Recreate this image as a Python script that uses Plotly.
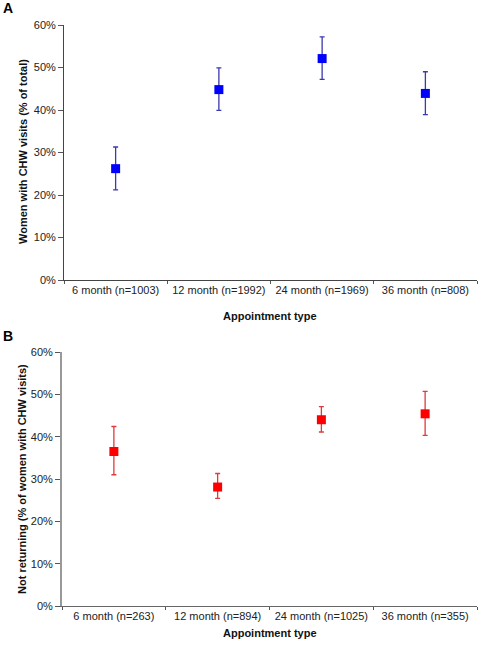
import plotly.graph_objects as go

categories_a = ["6 month (n=1003)", "12 month (n=1992)", "24 month (n=1969)", "36 month (n=808)"]
values_a = [26.2, 44.8, 52.1, 43.9]
err_plus_a = [5.1, 5.1, 5.1, 5.1]
err_minus_a = [5.0, 4.9, 4.9, 5.0]

categories_b = ["6 month (n=263)", "12 month (n=894)", "24 month (n=1025)", "36 month (n=355)"]
values_b = [36.5, 28.1, 44.0, 45.4]
err_plus_b = [5.9, 3.2, 3.1, 5.3]
err_minus_b = [5.5, 2.7, 2.9, 5.1]

y_ticks = [0, 10, 20, 30, 40, 50, 60]
y_tick_labels = ["0%", "10%", "20%", "30%", "40%", "50%", "60%"]

FONT = "Liberation Sans, Arial, sans-serif"
OFF = 0  # page body margin removed via post_script
W, H = 481 - OFF, 650 - OFF
ML, MR, MT, MB = 62, 4, 25, 44
PW = W - ML - MR
PH = H - MT - MB


def px_x(p):
    return (p - OFF - ML) / PW


def px_y(p):
    return (H - MB - (p - OFF)) / PH


fig = go.Figure()
fig.add_trace(go.Scatter(
    x=categories_a, y=values_a, mode="markers", xaxis="x", yaxis="y",
    marker=dict(symbol="square", size=9, color="#0000ff"),
    error_y=dict(type="data", array=err_plus_a, arrayminus=err_minus_a,
                 color="#3a3ab0", thickness=1.3, width=2.5),
    showlegend=False))
fig.add_trace(go.Scatter(
    x=categories_b, y=values_b, mode="markers", xaxis="x2", yaxis="y2",
    marker=dict(symbol="square", size=9, color="#ff0000"),
    error_y=dict(type="data", array=err_plus_b, arrayminus=err_minus_b,
                 color="#e03a3a", thickness=1.3, width=2.5),
    showlegend=False))

tickfont = dict(family=FONT, size=11, color="#222")

xcommon = dict(type="category", tickson="boundaries", ticks="outside", ticklen=3,
               tickcolor="#555", showgrid=False, zeroline=False, showline=True,
               tickfont=tickfont, range=[-0.5, 3.5], fixedrange=True, automargin=False)
ycommon = dict(range=[0, 60], tickmode="array", tickvals=y_ticks, ticktext=y_tick_labels,
               ticks="outside", ticklen=5, tickcolor="#555", showgrid=False,
               zeroline=False, showline=True, tickfont=tickfont, fixedrange=True,
               automargin=False)

fig.update_layout(
    width=W, height=H,
    margin=dict(l=ML, r=MR, t=MT, b=MB),
    paper_bgcolor="white", plot_bgcolor="white",
    hovermode=False,
    xaxis=dict(domain=[px_x(64), 1], anchor="y", linecolor="#444", linewidth=1, **xcommon),
    yaxis=dict(domain=[px_y(280), 1], anchor="x", linecolor="#444", linewidth=1, **ycommon),
    xaxis2=dict(domain=[0, 1], anchor="y2", linecolor="#666", linewidth=1, **xcommon),
    yaxis2=dict(domain=[0, px_y(352)], anchor="x2", linecolor="#999", linewidth=2, **ycommon),
)

titlefont = dict(family=FONT, size=11, color="#111")
ann = [
    dict(text="<b>Appointment type</b>", x=px_x(270), y=px_y(316)),
    dict(text="<b>Appointment type</b>", x=px_x(270), y=px_y(633)),
    dict(text="<b>Women with CHW visits (% of total)</b>", x=px_x(23), y=px_y(152), textangle=-90),
    dict(text="<b>Not returning (% of women with CHW visits)</b>", x=px_x(22), y=px_y(479), textangle=-90),
]
for a in ann:
    fig.add_annotation(xref="paper", yref="paper", showarrow=False,
                       xanchor="center", yanchor="middle", font=titlefont, **a)

for lab, yy in [("A", 8), ("B", 336)]:
    fig.add_annotation(text="<b>%s</b>" % lab, xref="paper", yref="paper",
                       x=px_x(1), y=px_y(yy), xanchor="left", yanchor="middle",
                       showarrow=False, font=dict(family=FONT, size=14, color="#000"))

fig.write_html("out.html", config={"displayModeBar": False, "staticPlot": True},
               post_script="document.body.style.margin='0';")
